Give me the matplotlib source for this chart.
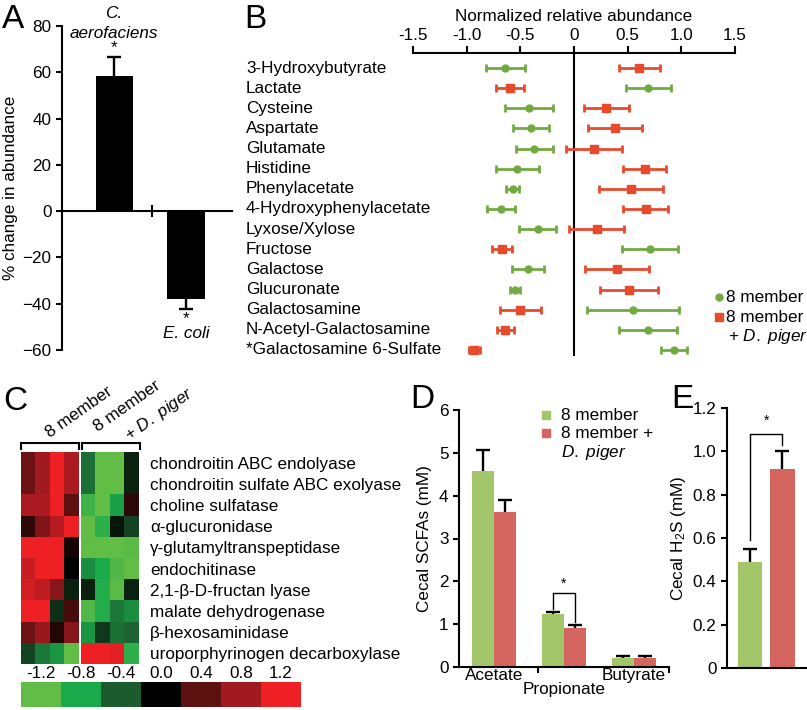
import matplotlib
matplotlib.use('Agg')
import matplotlib.pyplot as plt
import numpy as np
from matplotlib.colors import LinearSegmentedColormap, ListedColormap
from matplotlib.transforms import blended_transform_factory

plt.rcParams['font.family'] = ['Liberation Sans', 'DejaVu Sans']
plt.rcParams['mathtext.fontset'] = 'custom'
plt.rcParams['mathtext.rm'] = 'Liberation Sans'
plt.rcParams['mathtext.it'] = 'Liberation Sans:italic'

# ---------------- data ----------------
# Panel A
a_taxa = ['C. aerofaciens', 'E. coli']
a_change = [58.5, -38.0]
a_err = [8.2, 4.2]

# Panel B
metabolites = ['3-Hydroxybutyrate', 'Lactate', 'Cysteine', 'Aspartate', 'Glutamate',
               'Histidine', 'Phenylacetate', '4-Hydroxyphenylacetate', 'Lyxose/Xylose',
               'Fructose', 'Galactose', 'Glucuronate', 'Galactosamine',
               'N-Acetyl-Galactosamine', '*Galactosamine 6-Sulfate']
b_8m = [-0.64, 0.69, -0.42, -0.40, -0.37, -0.53, -0.57, -0.68, -0.34, 0.71,
        -0.43, -0.55, 0.55, 0.69, 0.93]
b_8m_err = [0.18, 0.21, 0.22, 0.17, 0.17, 0.20, 0.06, 0.13, 0.17, 0.26,
            0.15, 0.05, 0.43, 0.27, 0.12]
b_dp = [0.61, -0.60, 0.30, 0.38, 0.19, 0.66, 0.53, 0.67, 0.21, -0.67,
        0.40, 0.51, -0.50, -0.64, -0.93]
b_dp_err = [0.19, 0.13, 0.21, 0.25, 0.26, 0.20, 0.30, 0.21, 0.26, 0.09,
            0.30, 0.27, 0.19, 0.08, 0.05]

# Panel C
enzymes = ['chondroitin ABC endolyase', 'chondroitin sulfate ABC exolyase',
           'choline sulfatase', 'α-glucuronidase', 'γ-glutamyltranspeptidase',
           'endochitinase', '2,1-β-D-fructan lyase', 'malate dehydrogenase',
           'β-hexosaminidase', 'uroporphyrinogen decarboxylase']
hm_8m = [[0.5, 0.8, 1.3, 0.85],
         [0.5, 0.8, 1.3, 0.85],
         [0.85, 0.85, 1.3, 0.4],
         [0.2, 0.6, 0.9, 1.3],
         [1.3, 1.3, 1.3, 0.1],
         [1.0, 1.3, 1.3, 0.0],
         [1.05, 0.95, 0.65, -0.15],
         [1.2, 1.3, -0.2, 0.3],
         [0.5, 0.75, 0.15, 0.65],
         [-0.3, -0.55, -0.7, -1.2]]
hm_dp = [[-0.5, -1.2, -1.2, -0.15],
         [-0.5, -1.2, -1.2, -0.15],
         [-1.0, -1.2, -0.75, 0.2],
         [-1.2, -0.9, -0.1, -0.3],
         [-1.2, -1.2, -1.2, -1.15],
         [-0.65, -0.8, -1.1, -1.2],
         [-0.15, -0.85, -1.15, -0.15],
         [-1.1, -0.85, -0.55, -0.65],
         [-0.7, -0.25, -0.5, -0.45],
         [1.3, 1.3, 1.15, -0.9]]
cbar_ticks = ['-1.2', '-0.8', '-0.4', '0.0', '0.4', '0.8', '1.2']
hm_colors = ['#62bd46', '#1aaa4b', '#1c5b2e', '#000000', '#5c1010', '#a01a20', '#ee2024']

# Panel D
scfa = ['Acetate', 'Propionate', 'Butyrate']
d_8m = [4.57, 1.23, 0.22]
d_8m_err = [0.50, 0.06, 0.03]
d_dp = [3.63, 0.90, 0.22]
d_dp_err = [0.28, 0.09, 0.03]

# Panel E
e_vals = [0.49, 0.92]
e_err = [0.06, 0.08]

GREEN_B = '#72aa42'
RED_B = '#e84a2c'
GREEN_D = '#a4c66a'
RED_D = '#d4665f'

# ---------------- figure ----------------
W, H = 807, 710
DPI = 100
fig = plt.figure(figsize=(W / DPI, H / DPI), dpi=DPI)


def px_axes(x0, y0, x1, y1):
    return fig.add_axes([x0 / W, 1 - y1 / H, (x1 - x0) / W, (y1 - y0) / H])


def one_sided_err(ax, x, y, lo, hi, hide):
    eb = ax.errorbar(x, y, yerr=[lo, hi], fmt='none', ecolor='black',
                     elinewidth=1.7, capsize=5, capthick=1.7, zorder=1)
    caps = eb[1]
    n = len(x)
    # caps: first n points = lower caps, then upper caps (drawn as one line each)
    for c in caps:
        xs, ys = c.get_data()
        keep = np.ones(len(xs), dtype=bool)
        ys_arr = np.asarray(ys, dtype=float)
        for i in range(n):
            if np.isclose(ys_arr[i] if len(ys_arr) == n else np.nan, y[i]):
                keep[i] = False
        c.set_data(np.asarray(xs)[keep], ys_arr[keep])
    return eb


FS = 12.3
LW = 1.5

# ---------------- Panel A ----------------
axA = px_axes(62, 26, 232, 350)
xa = np.arange(len(a_change))
lo = [0 if v > 0 else e for v, e in zip(a_change, a_err)]
hi = [e if v > 0 else 0 for v, e in zip(a_change, a_err)]
axA.bar(xa, a_change, width=0.52, color='black', zorder=2)
one_sided_err(axA, xa, a_change, lo, hi, True)
axA.set_xlim(-0.734, 1.643)
axA.set_ylim(-60, 80)
axA.set_yticks(range(-60, 81, 20))
axA.spines['top'].set_visible(False)
axA.spines['right'].set_visible(False)
axA.spines['bottom'].set_position(('data', 0))
for s in ['left', 'bottom']:
    axA.spines[s].set_linewidth(LW)
axA.set_xticks([0.52])
axA.set_xticklabels([])
axA.tick_params(axis='x', direction='inout', length=8, width=LW)
axA.tick_params(axis='y', direction='out', length=4, width=LW, labelsize=FS)
axA.set_ylabel('% change in abundance', fontsize=FS, va='center')
axA.yaxis.set_label_coords(-0.30, 0.5)

# ---------------- Panel B ----------------
axB = px_axes(413, 53, 735, 356)
rows = np.arange(len(metabolites))
axB.set_xlim(-1.5, 1.5)
axB.set_ylim(14.30, -0.745)
axB.axvline(0, color='black', lw=LW, zorder=1)
axB.errorbar(b_8m, rows, xerr=b_8m_err, fmt='o', color=GREEN_B, ms=5,
             elinewidth=2, capsize=3, capthick=2, zorder=3)
axB.errorbar(b_dp, rows, xerr=b_dp_err, fmt='s', color=RED_B, ms=6,
             elinewidth=2, capsize=3, capthick=2, zorder=3)
for s in ['left', 'right', 'bottom']:
    axB.spines[s].set_visible(False)
axB.spines['top'].set_linewidth(LW)
axB.xaxis.tick_top()
axB.set_xticks([-1.5, -1.0, -0.5, 0, 0.5, 1.0, 1.5],
               ['-1.5', '-1.0', '-0.5', '0', '0.5', '1.0', '1.5'])
axB.tick_params(axis='x', direction='out', length=5, width=LW, labelsize=FS, pad=2)
axB.set_yticks([])
axB.set_xlabel('Normalized relative abundance', fontsize=FS, labelpad=5)
axB.xaxis.set_label_position('top')
tB = blended_transform_factory(fig.transFigure, axB.transData)
for r, name in zip(rows, metabolites):
    axB.text(246 / W, r, name, transform=tB, fontsize=FS, ha='left', va='center',
             clip_on=False)

# ---------------- Panel C ----------------
cmap = LinearSegmentedColormap.from_list('gr', hm_colors)
for data, (x0, x1) in [(hm_8m, (21, 79)), (hm_dp, (81, 139))]:
    axh = px_axes(x0, 452, x1, 664)
    axh.imshow(np.array(data), cmap=cmap, vmin=-1.2, vmax=1.2, aspect='auto',
               interpolation='nearest')
    axh.set_xticks([])
    axh.set_yticks([])
    for s in axh.spines.values():
        s.set_visible(False)
    last = axh
last.yaxis.tick_right()
last.set_yticks(range(len(enzymes)), enzymes)
last.tick_params(axis='y', length=0, pad=8, labelsize=FS)
# colour bar
cax = px_axes(21, 682, 301, 707)
cax.imshow(np.arange(len(hm_colors))[None, :], cmap=ListedColormap(hm_colors),
           aspect='auto', interpolation='nearest')
cax.xaxis.tick_top()
cax.set_xticks(range(len(cbar_ticks)), cbar_ticks)
cax.tick_params(axis='x', length=0, pad=1, labelsize=FS)
cax.set_yticks([])
for s in cax.spines.values():
    s.set_visible(False)

# ---------------- Panel D ----------------
axD = px_axes(459, 410, 669, 667)
xd = np.arange(len(scfa))
bw = 0.32
axD.bar(xd - bw / 2, d_8m, width=bw, color=GREEN_D, zorder=2)
axD.bar(xd + bw / 2, d_dp, width=bw, color=RED_D, zorder=2)
one_sided_err(axD, xd - bw / 2, d_8m, np.zeros(3), d_8m_err, True)
one_sided_err(axD, xd + bw / 2, d_dp, np.zeros(3), d_dp_err, True)
axD.set_xlim(-0.5, 2.5)
axD.set_ylim(0, 6)
axD.set_yticks(range(7))
axD.spines['top'].set_visible(False)
axD.spines['right'].set_visible(False)
for s in ['left', 'bottom']:
    axD.spines[s].set_linewidth(LW)
axD.set_xticks([0.63, 2.5])
axD.set_xticklabels([])
axD.tick_params(axis='x', direction='out', length=4, width=LW)
axD.tick_params(axis='y', direction='out', length=4, width=LW, labelsize=FS)
axD.set_ylabel('Cecal SCFAs (mM)', fontsize=FS, va='center')
axD.yaxis.set_label_coords(-0.162, 0.5)
tD = blended_transform_factory(axD.transData, axD.transAxes)
axD.text(0, -0.033, scfa[0], transform=tD, fontsize=FS, ha='center', va='center')
axD.text(1, -0.088, scfa[1], transform=tD, fontsize=FS, ha='center', va='center')
axD.text(2, -0.033, scfa[2], transform=tD, fontsize=FS, ha='center', va='center')
# significance
axD.plot([1 - bw / 2, 1 - bw / 2, 1 + bw / 2, 1 + bw / 2], [1.36, 1.72, 1.72, 1.05],
         color='black', lw=1)
axD.text(1, 1.95, '*', fontsize=10, ha='center', va='center')

# ---------------- Panel E ----------------
axE = px_axes(727, 408, 807, 668)
xe = np.arange(2)
axE.bar(xe, e_vals, width=0.74, color=[GREEN_D, RED_D], zorder=2)
one_sided_err(axE, xe, e_vals, np.zeros(2), e_err, True)
axE.set_xlim(-0.708, 1.754)
axE.set_ylim(0, 1.2)
axE.set_yticks([0, 0.2, 0.4, 0.6, 0.8, 1.0, 1.2],
               ['0', '0.2', '0.4', '0.6', '0.8', '1.0', '1.2'])
axE.set_xticks([])
axE.spines['top'].set_visible(False)
axE.spines['right'].set_visible(False)
for s in ['left', 'bottom']:
    axE.spines[s].set_linewidth(LW)
axE.tick_params(axis='y', direction='out', length=4, width=LW, labelsize=FS)
axE.set_ylabel(r'Cecal H$_2$S (mM)', fontsize=FS, va='center')
axE.yaxis.set_label_coords(-0.6125, 0.5)
axE.plot([0, 0, 1, 1], [0.59, 1.08, 1.08, 1.03], color='black', lw=1)
axE.text(0.5, 1.14, '*', fontsize=10, ha='center', va='center')

# ---------------- overlay (annotations, legends, letters) ----------------
ov = px_axes(0, 0, W, H)
ov.set_xlim(0, W)
ov.set_ylim(H, 0)
ov.axis('off')
ov.patch.set_visible(False)
ov.set_zorder(10)

for lab, (x, y) in {'A': (13, 19), 'B': (255, 19), 'C': (15, 401),
                    'D': (422, 399), 'E': (682, 399)}.items():
    ov.text(x, y, lab, fontsize=24, ha='center', va='center')

# panel A taxa
ov.text(114, 13, 'C.', fontsize=FS, style='italic', ha='center', va='center')
ov.text(114, 33, a_taxa[0].split(' ')[1], fontsize=FS, style='italic', ha='center', va='center')
ov.text(114, 48, '*', fontsize=FS, ha='center', va='center')
ov.text(186, 319, '*', fontsize=FS, ha='center', va='center')
ov.text(186, 334, a_taxa[1], fontsize=FS, style='italic', ha='center', va='center')

# legend B
ov.plot([719], [297], 'o', color=GREEN_B, ms=5)
ov.plot([719], [317], 's', color=RED_B, ms=6)
ov.text(726, 297, '8 member', fontsize=FS, va='center')
ov.text(726, 317, '8 member', fontsize=FS, va='center')
ov.text(728, 337, r'+ $\mathit{D.\ piger}$', fontsize=FS, va='center')

# panel C brackets and headers
for x0, x1 in [(21, 79), (82, 140)]:
    ov.plot([x0, x0, x1, x1], [449, 443, 443, 449], color='black', lw=LW,
            solid_joinstyle='miter')
ov.text(79, 412, '8 member', fontsize=FS, rotation=35, rotation_mode='anchor',
        ha='center', va='center')
ov.text(127, 406, '8 member', fontsize=FS, rotation=35, rotation_mode='anchor',
        ha='center', va='center')
ov.text(159, 414, r'+ $\mathit{D.\ piger}$', fontsize=FS, rotation=35,
        rotation_mode='anchor', ha='center', va='center')

# legend D
ov.plot([546], [415], 's', color=GREEN_D, ms=6)
ov.plot([546], [433], 's', color=RED_D, ms=6)
ov.text(561, 415, '8 member', fontsize=FS, va='center')
ov.text(561, 433, '8 member +', fontsize=FS, va='center')
ov.text(561, 453, r'$\mathit{D.\ piger}$', fontsize=FS, va='center')

fig.savefig('out.png', dpi=DPI, facecolor='white')
